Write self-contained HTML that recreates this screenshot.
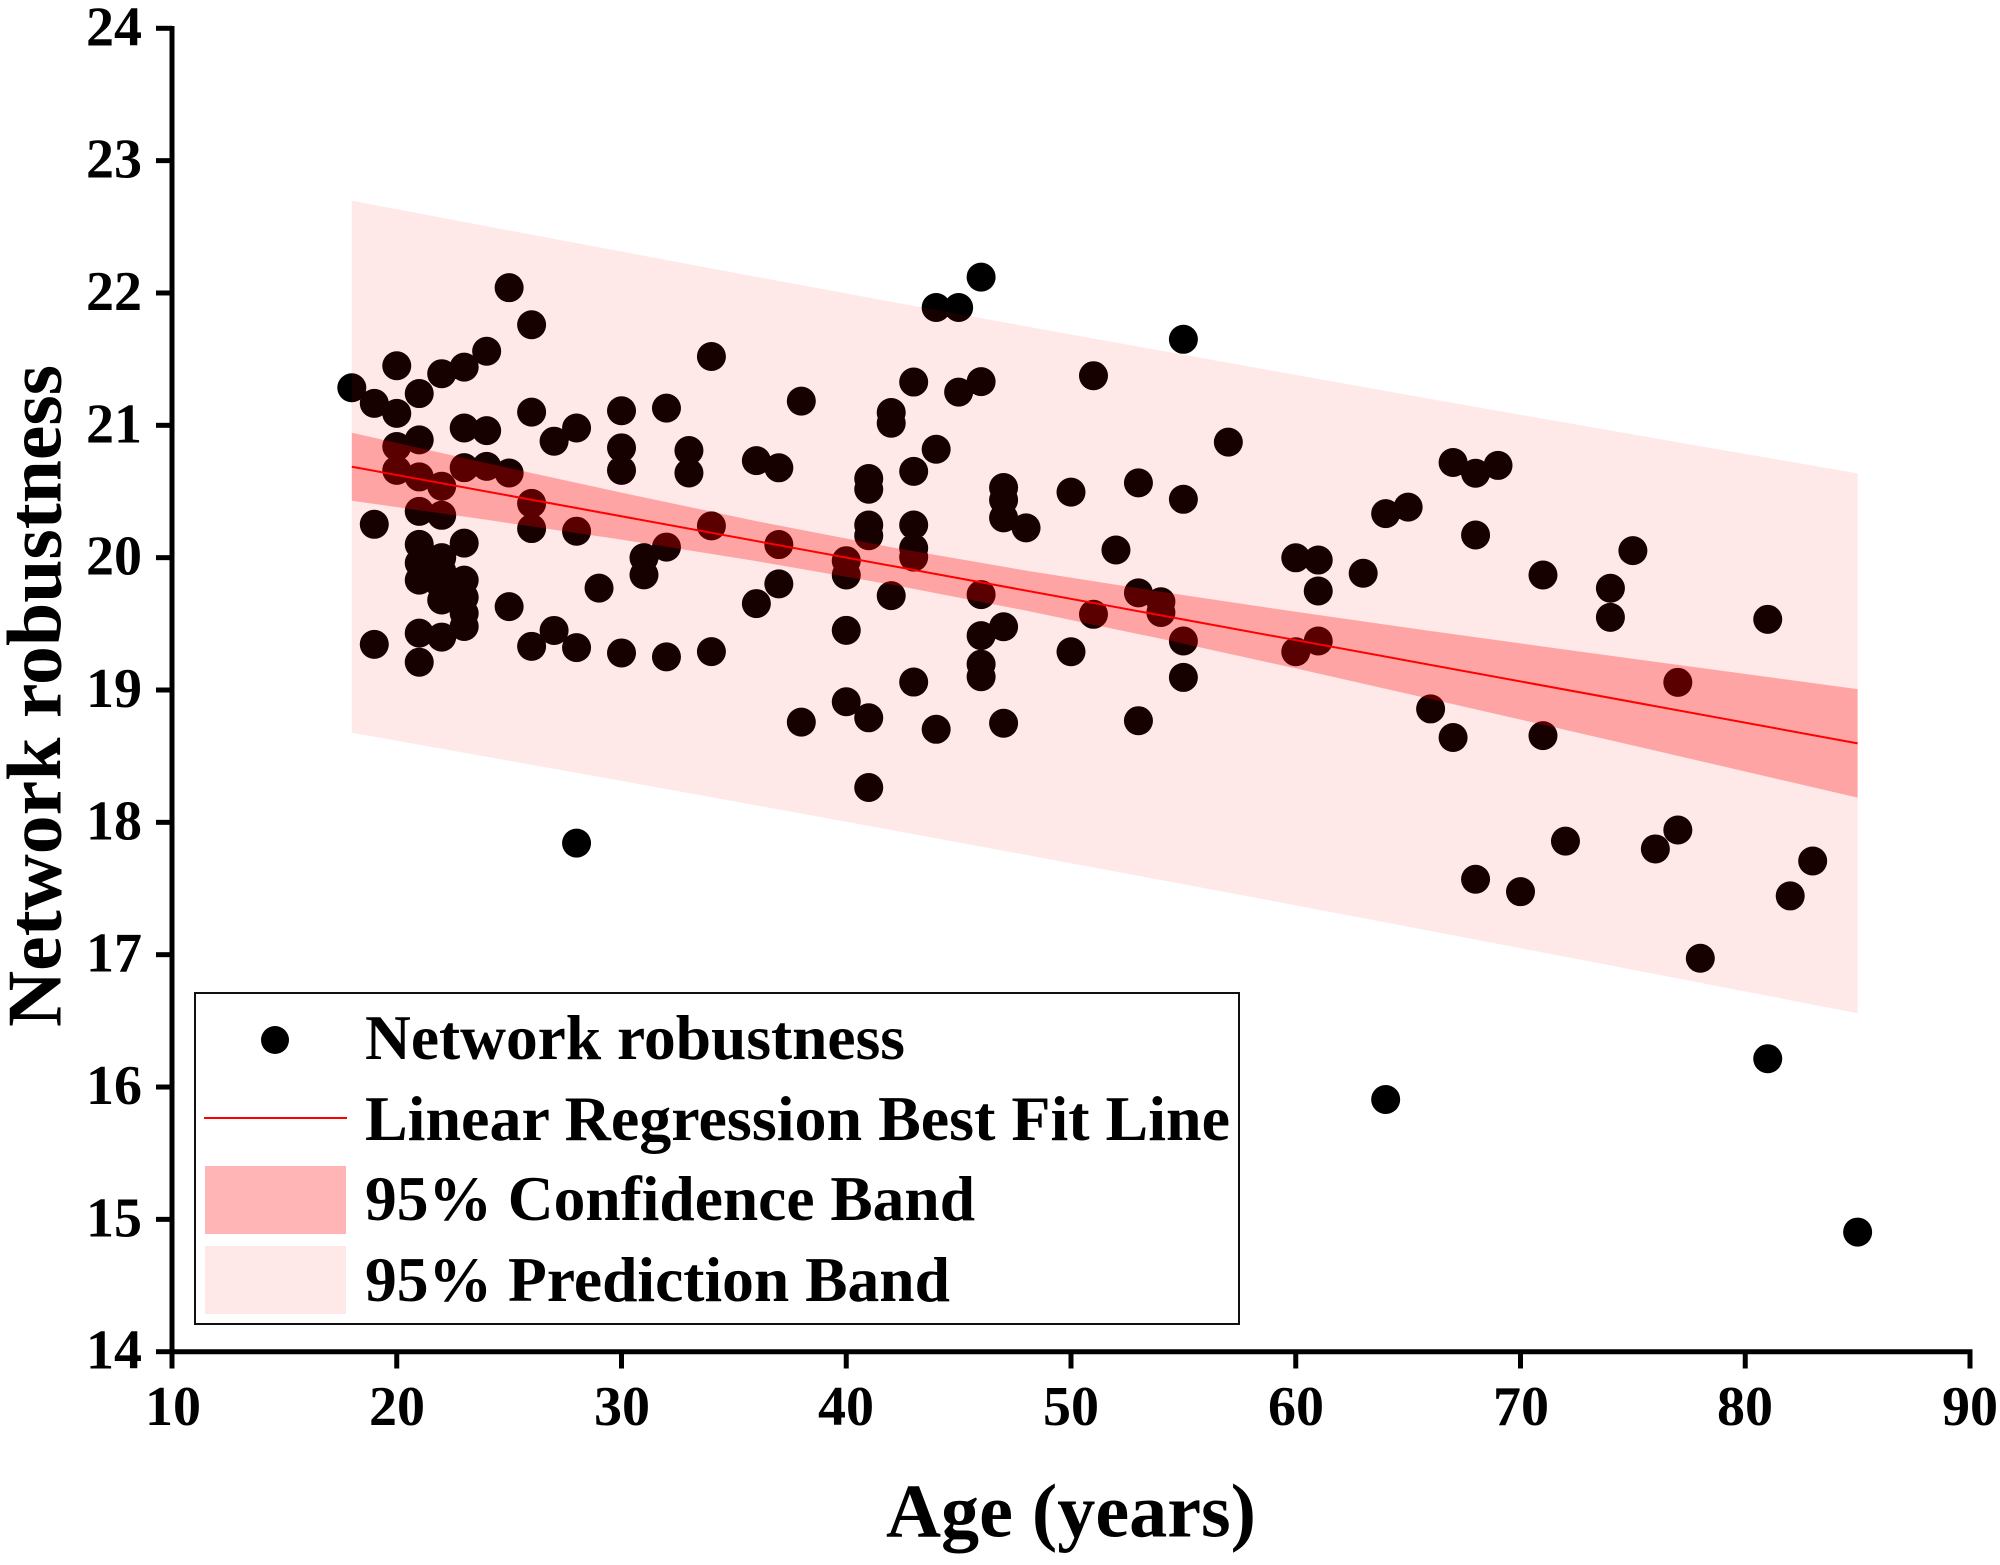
<!DOCTYPE html>
<html>
<head>
<meta charset="utf-8">
<style>
html,body{margin:0;padding:0;background:#fff;}
svg{display:block;}
text{font-family:"Liberation Serif","Times New Roman",serif;font-weight:bold;fill:#000;}
</style>
</head>
<body>
<svg width="2000" height="1565" viewBox="0 0 2000 1565" xmlns="http://www.w3.org/2000/svg">
<rect x="0" y="0" width="2000" height="1565" fill="#fff"/>

<!-- data group: x = 22.475*age - 52.75 ; y = 3204.46 - 132.34*v -->
<g transform="matrix(22.475 0 0 -132.34 -52.75 3204.46)">
  <!-- points -->
  <path fill="none" stroke="#000" stroke-width="29" stroke-linecap="round" vector-effect="non-scaling-stroke"
  d="M18 21.284h0.001
M19 21.166h0.001M19 20.252h0.001M19 19.345h0.001
M20 21.45h0.001M20 21.09h0.001M20 20.84h0.001M20 20.66h0.001
M21 21.24h0.001M21 20.89h0.001M21 20.61h0.001M21 20.35h0.001M21 20.10h0.001M21 19.96h0.001M21 19.83h0.001M21 19.43h0.001M21 19.21h0.001
M22 21.39h0.001M22 20.54h0.001M22 20.32h0.001M22 20.0h0.001M22 19.9h0.001M22 19.78h0.001M22 19.68h0.001M22 19.40h0.001
M23 21.44h0.001M23 20.98h0.001M23 20.68h0.001M23 20.11h0.001M23 19.83h0.001M23 19.70h0.001M23 19.58h0.001M23 19.48h0.001
M24 21.56h0.001M24 20.96h0.001M24 20.69h0.001
M25 22.04h0.001M25 20.64h0.001M25 19.63h0.001
M26 21.76h0.001M26 21.10h0.001M26 20.41h0.001M26 20.22h0.001M26 19.33h0.001
M27 20.88h0.001M27 19.45h0.001
M28 20.98h0.001M28 20.20h0.001M28 19.32h0.001M28 17.843h0.001
M29 19.77h0.001
M30 21.11h0.001M30 20.83h0.001M30 20.66h0.001M30 19.28h0.001
M31 20.0h0.001M31 19.87h0.001
M32 21.13h0.001M32 20.08h0.001M32 19.25h0.001
M33 20.81h0.001M33 20.64h0.001
M34 21.52h0.001M34 20.24h0.001M34 19.29h0.001
M36 20.733h0.001M36 19.653h0.001
M37 20.679h0.001M37 20.099h0.001M37 19.802h0.001
M38 21.183h0.001M38 18.757h0.001
M40 19.977h0.001M40 19.869h0.001M40 19.451h0.001M40 18.911h0.001
M41 20.598h0.001M41 20.517h0.001M41 20.247h0.001M41 20.166h0.001M41 18.79h0.001M41 18.263h0.001
M42 21.097h0.001M42 21.016h0.001M42 19.713h0.001
M43 21.327h0.001M43 20.652h0.001M43 20.247h0.001M43 20.072h0.001M43 20.004h0.001M43 19.06h0.001
M44 21.89h0.001M44 20.819h0.001M44 18.703h0.001
M45 21.89h0.001M45 21.251h0.001
M46 22.12h0.001M46 21.33h0.001M46 19.721h0.001M46 19.411h0.001M46 19.195h0.001M46 19.1h0.001
M47 20.53h0.001M47 20.436h0.001M47 20.301h0.001M47 19.478h0.001M47 18.749h0.001
M48 20.225h0.001
M50 20.495h0.001M50 19.289h0.001
M51 21.375h0.001M51 19.572h0.001
M52 20.058h0.001
M53 20.565h0.001M53 19.734h0.001M53 18.768h0.001
M54 19.667h0.001M54 19.586h0.001
M55 21.65h0.001M55 20.441h0.001M55 19.37h0.001M55 19.095h0.001
M57 20.873h0.001
M60 19.999h0.001M60 19.289h0.001
M61 19.982h0.001M61 19.748h0.001M61 19.37h0.001
M63 19.882h0.001
M64 20.333h0.001M64 15.906h0.001
M65 20.382h0.001
M66 18.857h0.001
M67 20.719h0.001M67 18.641h0.001
M68 20.638h0.001M68 20.171h0.001M68 17.57h0.001
M69 20.697h0.001
M70 17.476h0.001
M71 19.869h0.001M71 18.655h0.001
M72 17.858h0.001
M74 19.769h0.001M74 19.549h0.001
M75 20.053h0.001
M76 17.799h0.001
M77 19.058h0.001M77 17.942h0.001
M78 16.973h0.001
M81 19.534h0.001M81 16.214h0.001
M82 17.444h0.001
M83 17.708h0.001
M85 14.904h0.001"/>

  <!-- prediction band -->
  <polygon fill="#ff0000" fill-opacity="0.09"
  points="18,22.697 24,22.504 30,22.313 36,22.122 42,21.934 48,21.748 54,21.564 60,21.381 66,21.199 72,21.020 78,20.842 85,20.637 85,16.557 78,16.788 72,16.984 66,17.179 60,17.373 54,17.564 48,17.754 42,17.942 36,18.128 30,18.313 24,18.496 18,18.677"/>
  <!-- confidence band -->
  <polygon fill="#ff0000" fill-opacity="0.29"
  points="18,20.944 24,20.714 30,20.491 36,20.276 42,20.079 48,19.902 54,19.742 60,19.591 66,19.446 72,19.305 78,19.167 85,19.007 85,18.187 78,18.463 72,18.699 66,18.932 60,19.163 54,19.387 48,19.600 42,19.797 36,19.974 30,20.136 24,20.286 18,20.430"/>
  <!-- regression line -->
  <path d="M18 20.687L85 18.597" stroke="#ff0000" stroke-width="2" fill="none" vector-effect="non-scaling-stroke"/>
</g>

<!-- axes -->
<g stroke="#000" stroke-width="5" fill="none">
  <line x1="172" y1="26" x2="172" y2="1354"/>
  <line x1="169.5" y1="1351.7" x2="1972.5" y2="1351.7"/>
  <!-- y ticks -->
  <line x1="156" y1="28.3" x2="172" y2="28.3"/>
  <line x1="156" y1="160.64" x2="172" y2="160.64"/>
  <line x1="156" y1="292.98" x2="172" y2="292.98"/>
  <line x1="156" y1="425.32" x2="172" y2="425.32"/>
  <line x1="156" y1="557.66" x2="172" y2="557.66"/>
  <line x1="156" y1="690" x2="172" y2="690"/>
  <line x1="156" y1="822.34" x2="172" y2="822.34"/>
  <line x1="156" y1="954.68" x2="172" y2="954.68"/>
  <line x1="156" y1="1087.02" x2="172" y2="1087.02"/>
  <line x1="156" y1="1219.36" x2="172" y2="1219.36"/>
  <line x1="156" y1="1351.7" x2="172" y2="1351.7"/>
  <!-- x ticks -->
  <line x1="172" y1="1351.7" x2="172" y2="1368.5"/>
  <line x1="396.75" y1="1351.7" x2="396.75" y2="1368.5"/>
  <line x1="621.5" y1="1351.7" x2="621.5" y2="1368.5"/>
  <line x1="846.25" y1="1351.7" x2="846.25" y2="1368.5"/>
  <line x1="1071" y1="1351.7" x2="1071" y2="1368.5"/>
  <line x1="1295.75" y1="1351.7" x2="1295.75" y2="1368.5"/>
  <line x1="1520.5" y1="1351.7" x2="1520.5" y2="1368.5"/>
  <line x1="1745.25" y1="1351.7" x2="1745.25" y2="1368.5"/>
  <line x1="1970" y1="1351.7" x2="1970" y2="1368.5"/>
</g>

<!-- y tick labels -->
<g font-size="56" text-anchor="end">
  <text x="142" y="45.3">24</text>
  <text x="142" y="177.6">23</text>
  <text x="142" y="310">22</text>
  <text x="142" y="442.3">21</text>
  <text x="142" y="574.7">20</text>
  <text x="142" y="707">19</text>
  <text x="142" y="839.3">18</text>
  <text x="142" y="971.7">17</text>
  <text x="142" y="1104">16</text>
  <text x="142" y="1236.4">15</text>
  <text x="142" y="1368.7">14</text>
</g>

<!-- x tick labels -->
<g font-size="56" text-anchor="middle">
  <text x="173" y="1425">10</text>
  <text x="397" y="1425">20</text>
  <text x="622" y="1425">30</text>
  <text x="846" y="1425">40</text>
  <text x="1071" y="1425">50</text>
  <text x="1296" y="1425">60</text>
  <text x="1521" y="1425">70</text>
  <text x="1745" y="1425">80</text>
  <text x="1970" y="1425">90</text>
</g>

<!-- axis titles -->
<text x="886" y="1536.7" font-size="76" textLength="370" lengthAdjust="spacingAndGlyphs">Age (years)</text>
<text transform="translate(60.7 1027) rotate(-90)" x="0" y="0" font-size="77" textLength="662" lengthAdjust="spacingAndGlyphs">Network robustness</text>

<!-- legend -->
<rect x="195" y="993" width="1044" height="331" fill="#fff" stroke="#111" stroke-width="2"/>
<circle cx="275" cy="1040" r="14" fill="#000"/>
<line x1="204" y1="1118" x2="347" y2="1118" stroke="#ff0000" stroke-width="2"/>
<rect x="205" y="1166" width="141" height="68" fill="#ffb5b5"/>
<rect x="205" y="1246" width="141" height="68" fill="#ffe8e8"/>
<g font-size="63">
  <text x="365" y="1059" textLength="540" lengthAdjust="spacingAndGlyphs">Network robustness</text>
  <text x="365" y="1140" textLength="865" lengthAdjust="spacingAndGlyphs">Linear Regression Best Fit Line</text>
  <text x="365" y="1220" textLength="610" lengthAdjust="spacingAndGlyphs">95% Confidence Band</text>
  <text x="365" y="1301" textLength="585" lengthAdjust="spacingAndGlyphs">95% Prediction Band</text>
</g>
</svg>
</body>
</html>
